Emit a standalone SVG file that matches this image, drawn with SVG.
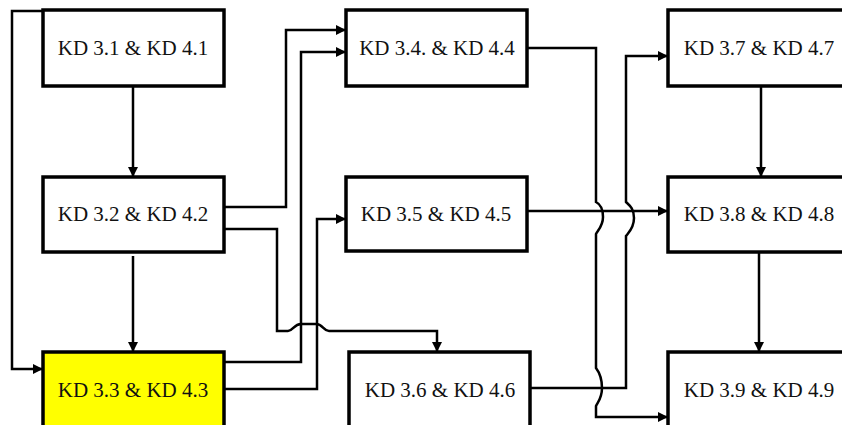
<svg xmlns="http://www.w3.org/2000/svg" width="842" height="425" viewBox="0 0 842 425">
<style>
.box{fill:#fff;stroke:#000;stroke-width:3.5}
.yel{fill:#ffff00}
.lbl{font-size:21px;fill:#111;text-anchor:middle}
.c{fill:none;stroke:#000;stroke-width:2.5}
</style>
<defs>
<marker id="ah" viewBox="0 0 10 10" refX="10" refY="5" markerWidth="4" markerHeight="4" orient="auto" markerUnits="strokeWidth">
<path d="M0,0 L10,5 L0,10 z" fill="#000"/>
</marker>
</defs>
<rect width="842" height="425" fill="#fff"/>
<g id="connectors">
<path class="c" d="M43,11 H12 V369 H43" marker-end="url(#ah)"/>
<path class="c" d="M133,86 V177" marker-end="url(#ah)"/>
<path class="c" d="M133,256 V352" marker-end="url(#ah)"/>
<path class="c" d="M224,207 H286 V30 H346" marker-end="url(#ah)"/>
<path class="c" d="M224,362 H301 V52 H346" marker-end="url(#ah)"/>
<path class="c" d="M224,389 H317 V219 H346" marker-end="url(#ah)"/>
<path class="c" d="M224,229 H277 V331 H288 C293,331 294,324 301,324 H316 C323,324 323,331 329,331 H437 V352" marker-end="url(#ah)"/>
<path class="c" d="M527,48 H596 V202 C600,204 603,209 603,217 C603,226 598,230 596,234 V368 C599,372 602,378 602,388 C602,398 598,402 596,406 V417 H668" marker-end="url(#ah)"/>
<path class="c" d="M530,388 H626 V236 C629,232 634,228 634,218 C634,208 629,205 626,202 V56 H668" marker-end="url(#ah)"/>
<path class="c" d="M527,211 H668" marker-end="url(#ah)"/>
<path class="c" d="M761,86 V177" marker-end="url(#ah)"/>
<path class="c" d="M759,252 V352" marker-end="url(#ah)"/>
</g>
<g font-family="Liberation Serif, Times New Roman, serif">
<g id="n1"><rect class="box" x="43" y="10" width="181" height="76"/><text class="lbl" x="133" y="55">KD 3.1 &amp; KD 4.1</text></g>
<g id="n2"><rect class="box" x="43" y="177" width="181" height="75"/><text class="lbl" x="133" y="221">KD 3.2 &amp; KD 4.2</text></g>
<g id="n3"><rect class="box yel" x="43" y="352" width="181" height="80"/><text class="lbl" x="133" y="397">KD 3.3 &amp; KD 4.3</text></g>
<g id="n4"><rect class="box" x="346" y="10" width="181" height="76"/><text class="lbl" x="437" y="55">KD 3.4. &amp; KD 4.4</text></g>
<g id="n5"><rect class="box" x="346" y="177" width="181" height="74"/><text class="lbl" x="436" y="221">KD 3.5 &amp; KD 4.5</text></g>
<g id="n6"><rect class="box" x="349" y="352" width="181" height="80"/><text class="lbl" x="440" y="397">KD 3.6 &amp; KD 4.6</text></g>
<g id="n7"><rect class="box" x="668" y="10" width="190" height="76"/><text class="lbl" x="759" y="55">KD 3.7 &amp; KD 4.7</text></g>
<g id="n8"><rect class="box" x="668" y="177" width="190" height="75"/><text class="lbl" x="759" y="221">KD 3.8 &amp; KD 4.8</text></g>
<g id="n9"><rect class="box" x="668" y="352" width="190" height="80"/><text class="lbl" x="759" y="397">KD 3.9 &amp; KD 4.9</text></g>
</g>
</svg>
